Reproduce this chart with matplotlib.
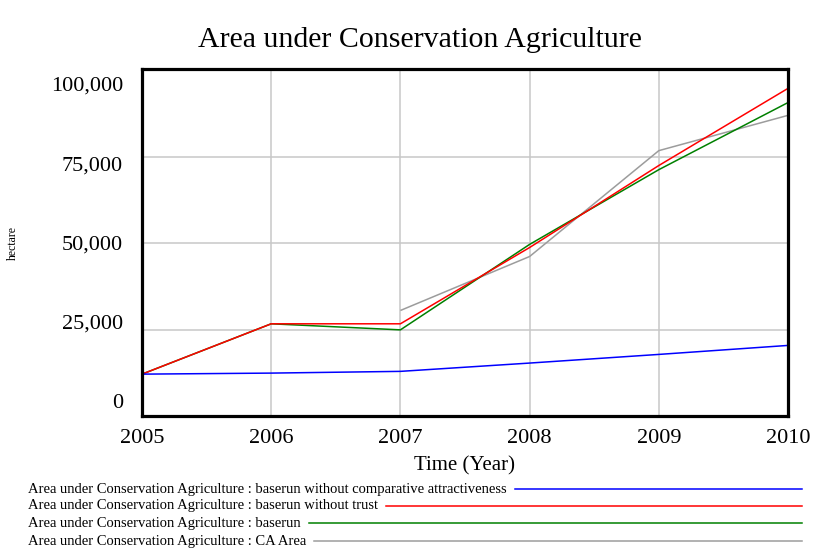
import matplotlib
matplotlib.use("Agg")
import matplotlib.pyplot as plt
from matplotlib.lines import Line2D

plt.rcParams['font.family'] = ['Liberation Serif', 'DejaVu Serif']

# Simulation output (hectare) by year
years = [2005, 2006, 2007, 2008, 2009, 2010]
no_attractiveness = [12100, 12400, 12900, 15300, 17800, 20400]
no_trust = [12100, 26650, 26650, 48700, 72400, 94700]
baserun = [12100, 26650, 24900, 49600, 71200, 90600]

# Observed data series
ca_years = [2007, 2008, 2009, 2010]
ca_area = [30500, 46100, 76700, 86900]

variable = "Area under Conservation Agriculture"
run_names = ["baserun without comparative attractiveness",
             "baserun without trust", "baserun", "CA Area"]
run_colors = ["#0000ff", "#ff0000", "#008000", "#9c9c9c"]

y_ticks = [0, 25000, 50000, 75000, 100000]
x_ticks = [2005, 2006, 2007, 2008, 2009, 2010]

W, H = 835, 550
fig = plt.figure(figsize=(W / 100, H / 100), dpi=100)
ax = fig.add_axes([142 / W, 1 - 416 / H, (788 - 142) / W, (416 - 69) / H])

series = [(years, no_attractiveness), (years, no_trust),
          (years, baserun), (ca_years, ca_area)]
# draw in reverse order so the first run sits on top like the source tool
for (x, y), c in list(zip(series, run_colors))[::-1]:
    ax.plot(x, y, color=c, lw=1.1, solid_capstyle='butt')

ax.set_xlim(2005, 2010)
ax.set_ylim(0, 100300)
ax.set_xticks(x_ticks)
ax.set_xticklabels([str(t) for t in x_ticks], fontsize=16)
ax.set_yticks(y_ticks)
ax.set_yticklabels([])
ax.tick_params(length=0, pad=9.5)
ax.grid(True, color='#c8c8c8', lw=1.1)
ax.set_axisbelow(True)
for s in ax.spines.values():
    s.set_linewidth(2.3)
    s.set_color('black')

# value labels are spread evenly inside the axis span
lo, hi = 0.037, 0.95
for i, v in enumerate(y_ticks):
    frac = lo + i * (hi - lo) / (len(y_ticks) - 1)
    ax.text(-19 / 646, frac, f"{v:,}", transform=ax.transAxes,
            ha='right', va='center', fontsize=16)

ax.set_xlabel("Time (Year)", fontsize=15, labelpad=6)
fig.text(13 / W, 1 - 243 / H, "hectare", rotation=90, ha='center',
         va='center', fontsize=8.5)
fig.text(420 / W, 1 - 40 / H, variable, ha='center', va='center',
         fontsize=21.5)

# legend rows: label text followed by a line running to the right edge
row_y = [489, 506, 523, 541]
fig.canvas.draw()
renderer = fig.canvas.get_renderer()
for name, c, ry in zip(run_names, run_colors, row_y):
    t = fig.text(28 / W, 1 - ry / H, f"{variable} : {name}", ha='left',
                 va='center', fontsize=10.5)
    bb = t.get_window_extent(renderer)
    x0 = (bb.x1 + 8) / W
    fig.add_artist(Line2D([x0, 802 / W], [1 - ry / H, 1 - ry / H],
                          transform=fig.transFigure, color=c, lw=1.1))

fig.savefig("out.png", dpi=100)
